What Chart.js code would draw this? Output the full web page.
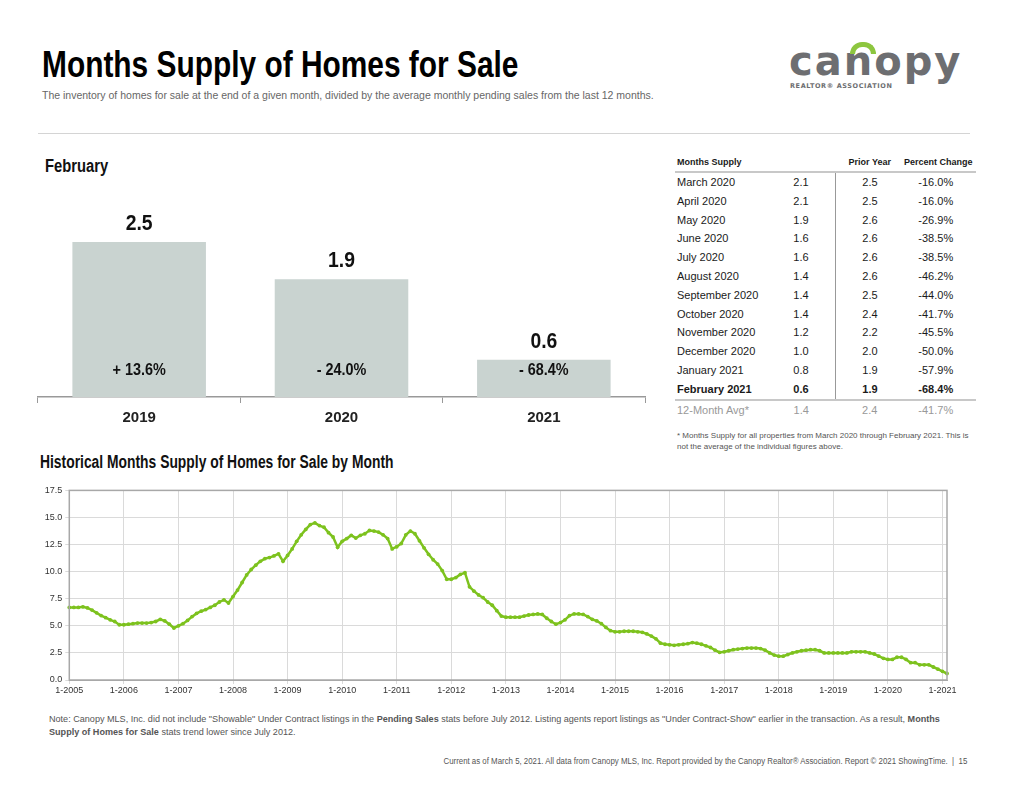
<!DOCTYPE html>
<html>
<head>
<meta charset="utf-8">
<script src="https://cdn.jsdelivr.net/npm/chart.js@4"></script>
<style>
  body { margin: 0; width: 1024px; height: 791px; background: #fff; position: relative; overflow: hidden;
         font-family: "Liberation Sans", Arial, sans-serif; color: #222; }
  .abs { position: absolute; white-space: nowrap; }
  .narrow { font-weight: bold; transform-origin: 0 0; }
  #title { left: 42px; top: 47px; font-size: 36px; line-height: 36px; color: #000; transform: scaleX(0.83); }
  #subtitle { left: 42px; top: 89px; font-size: 10.5px; line-height: 12px; color: #666; }
  #rule { left: 38px; top: 133px; width: 932px; height: 1px; background: #d4d4d4; }
  #logo { left: 789px; top: 41px; font-family: "DejaVu Sans", sans-serif; font-weight: bold; font-size: 40px; line-height: 40px; color: #6d6e71; letter-spacing: 2px; }
  #logoArc { left: 850px; top: 42px; width: 16px; height: 7px; border: 5px solid #8dc63f; border-bottom: none; border-radius: 13px 13px 0 0; }
  #logoSub { left: 790px; top: 82px; font-family: "DejaVu Sans", sans-serif; font-weight: bold; font-size: 6.5px; color: #6d6e71; letter-spacing: 0.6px; }
  #febLabel { left: 45px; top: 155px; font-size: 18px; line-height: 22px; color: #111; transform: scaleX(0.82); }
  #histLabel { left: 40px; top: 451px; font-size: 18px; line-height: 22px; color: #111; transform: scaleX(0.77); }
  #barWrap { left: 30px; top: 211px; width: 625px; height: 216px; }
  #lineWrap { left: 30px; top: 482px; width: 930px; height: 218px; }
  #supplyTable { left: 675px; top: 153px; border-collapse: collapse; font-size: 11px; color: #1a1a1a; }
  #supplyTable td, #supplyTable th { padding: 0; height: 18.8px; line-height: 18.8px; }
  #supplyTable th { font-size: 9px; font-weight: bold; height: 18px; line-height: 18px; border-bottom: 2px solid #c8c8c8; }
  #supplyTable .c1 { width: 90px; text-align: left; padding-left: 2px; }
  #supplyTable .c2 { width: 68px; text-align: center; border-right: 1px solid #999; }
  #supplyTable .c3 { width: 68px; text-align: center; }
  #supplyTable td.c4 { width: 56px; text-align: center; padding-right: 8px; }
  #supplyTable th.c4 { width: 64px; text-align: right; padding-right: 3px; }
  #supplyTable tr.bold td { font-weight: bold; border-bottom: 2px solid #c8c8c8; }
  #supplyTable tr.avg td { color: #999; border-right: none; }
  #tableNote { left: 677px; top: 430px; font-size: 8px; line-height: 11px; color: #555; }
  #note { left: 49px; top: 712px; font-size: 9.5px; line-height: 13px; color: #555; transform: scaleX(0.955); transform-origin: 0 0; }
  #footer { right: 57px; top: 756px; font-size: 8.5px; color: #555; transform: scaleX(0.925); transform-origin: 100% 0; }
</style>
</head>
<body>
<div id="title" class="abs narrow">Months Supply of Homes for Sale</div>
<div id="subtitle" class="abs">The inventory of homes for sale at the end of a given month, divided by the average monthly pending sales from the last 12 months.</div>
<div id="logo" class="abs">canopy</div>
<div id="logoArc" class="abs"></div>
<div id="logoSub" class="abs">REALTOR® ASSOCIATION</div>
<div id="rule" class="abs"></div>

<div id="febLabel" class="abs narrow">February</div>
<div id="barWrap" class="abs"><canvas id="febChart" width="625" height="216"></canvas></div>

<table id="supplyTable" class="abs"></table>
<div id="tableNote" class="abs">* Months Supply for all properties from March 2020 through February 2021. This is<br>not the average of the individual figures above.</div>

<div id="histLabel" class="abs narrow">Historical Months Supply of Homes for Sale by Month</div>
<div id="lineWrap" class="abs"><canvas id="histChart" width="930" height="218"></canvas></div>

<div id="note" class="abs">Note: Canopy MLS, Inc. did not include "Showable" Under Contract listings in the <b>Pending Sales</b> stats before July 2012. Listing agents report listings as "Under Contract-Show" earlier in the transaction. As a result, <b>Months</b><br><b>Supply of Homes for Sale</b> stats trend lower since July 2012.</div>
<div id="footer" class="abs">Current as of March 5, 2021. All data from Canopy MLS, Inc. Report provided by the Canopy Realtor® Association. Report © 2021 ShowingTime. &nbsp;|&nbsp; 15</div>

<script>
// February comparison
var barYears = ['2019', '2020', '2021'];
var barValues = [2.5, 1.9, 0.6];
var barChanges = ['+ 13.6%', '- 24.0%', '- 68.4%'];

// table on the right
var tableMonths = ['March 2020', 'April 2020', 'May 2020', 'June 2020', 'July 2020', 'August 2020',
  'September 2020', 'October 2020', 'November 2020', 'December 2020', 'January 2021', 'February 2021'];
var tableSupply = ['2.1', '2.1', '1.9', '1.6', '1.6', '1.4', '1.4', '1.4', '1.2', '1.0', '0.8', '0.6'];
var tablePrior = ['2.5', '2.5', '2.6', '2.6', '2.6', '2.6', '2.5', '2.4', '2.2', '2.0', '1.9', '1.9'];
var tableChange = ['-16.0%', '-16.0%', '-26.9%', '-38.5%', '-38.5%', '-46.2%', '-44.0%', '-41.7%', '-45.5%', '-50.0%', '-57.9%', '-68.4%'];
var avgRow = ['12-Month Avg*', '1.4', '2.4', '-41.7%'];

// historical monthly supply, Jan..Dec
var supply2005 = [6.7, 6.7, 6.7, 6.75, 6.65, 6.45, 6.2, 5.95, 5.75, 5.55, 5.4, 5.1];
var supply2006 = [5.1, 5.15, 5.2, 5.25, 5.25, 5.25, 5.3, 5.4, 5.6, 5.45, 5.15, 4.8];
var supply2007 = [5.0, 5.2, 5.5, 5.85, 6.15, 6.35, 6.5, 6.7, 6.9, 7.2, 7.4, 7.1];
var supply2008 = [7.7, 8.3, 9.0, 9.7, 10.2, 10.6, 10.95, 11.2, 11.3, 11.45, 11.65, 10.95];
var supply2009 = [11.5, 12.1, 12.8, 13.4, 13.9, 14.35, 14.5, 14.25, 14.1, 13.6, 13.2, 12.25];
var supply2010 = [12.8, 13.05, 13.35, 13.1, 13.35, 13.5, 13.8, 13.75, 13.65, 13.4, 13.05, 12.1];
var supply2011 = [12.3, 12.6, 13.4, 13.75, 13.5, 12.85, 12.2, 11.6, 11.1, 10.7, 10.1, 9.3];
var supply2012 = [9.3, 9.45, 9.75, 9.9, 8.6, 8.2, 7.85, 7.6, 7.2, 6.9, 6.4, 5.9];
var supply2013 = [5.8, 5.8, 5.8, 5.8, 5.9, 6.0, 6.05, 6.1, 6.05, 5.7, 5.4, 5.15];
var supply2014 = [5.3, 5.55, 5.95, 6.1, 6.1, 6.05, 5.85, 5.6, 5.45, 5.2, 4.85, 4.55];
var supply2015 = [4.45, 4.45, 4.5, 4.5, 4.5, 4.45, 4.4, 4.25, 4.05, 3.8, 3.4, 3.3];
var supply2016 = [3.25, 3.2, 3.25, 3.3, 3.35, 3.45, 3.4, 3.3, 3.15, 3.0, 2.75, 2.55];
var supply2017 = [2.6, 2.7, 2.8, 2.85, 2.9, 2.95, 2.95, 2.95, 2.9, 2.75, 2.5, 2.3];
var supply2018 = [2.2, 2.2, 2.35, 2.5, 2.6, 2.7, 2.75, 2.8, 2.8, 2.7, 2.5, 2.5];
var supply2019 = [2.5, 2.5, 2.5, 2.5, 2.6, 2.6, 2.6, 2.6, 2.5, 2.4, 2.2, 2.0];
var supply2020 = [1.9, 1.9, 2.1, 2.1, 1.9, 1.6, 1.6, 1.4, 1.4, 1.4, 1.2, 1.0];
var supply2021 = [0.8, 0.6];
var firstYear = 2005;
var yTicks = [0, 2.5, 5, 7.5, 10, 12.5, 15, 17.5];

var font = 'Liberation Sans';

// ---- table
var tbl = document.getElementById('supplyTable');
var html = '<tr><th class="c1">Months Supply</th><th class="c2" style="border-right:none"></th><th class="c3">Prior Year</th><th class="c4">Percent Change</th></tr>';
for (var i = 0; i < tableMonths.length; i++) {
  var last = i == tableMonths.length - 1;
  html += '<tr' + (last ? ' class="bold"' : '') + '><td class="c1">' + tableMonths[i] + '</td><td class="c2">' + tableSupply[i] +
    '</td><td class="c3">' + tablePrior[i] + '</td><td class="c4">' + tableChange[i] + '</td></tr>';
}
html += '<tr class="avg"><td class="c1">' + avgRow[0] + '</td><td class="c2" style="border-right:none">' + avgRow[1] +
  '</td><td class="c3">' + avgRow[2] + '</td><td class="c4">' + avgRow[3] + '</td></tr>';
tbl.innerHTML = html;

// condensed text: squeeze horizontally
function narrowText(c, txt, x, y, size, sx) {
  c.save();
  c.translate(x, y);
  c.scale(sx, 1);
  c.font = 'bold ' + size + 'px "' + font + '"';
  c.fillText(txt, 0, 0);
  c.restore();
}

// ---- February bars
var barLabels = {
  id: 'barLabels',
  afterDatasetsDraw: function (chart) {
    var c = chart.ctx;
    var meta = chart.getDatasetMeta(0);
    c.save();
    c.textAlign = 'center';
    c.textBaseline = 'middle';
    c.fillStyle = '#111';
    meta.data.forEach(function (bar, i) {
      narrowText(c, barValues[i], bar.x, bar.y - 18, 22, 0.88);
      narrowText(c, barChanges[i], bar.x, bar.base - 26, 16, 0.9);
    });
    c.restore();
  }
};

new Chart(document.getElementById('febChart').getContext('2d'), {
  type: 'bar',
  data: {
    labels: barYears,
    datasets: [{
      data: barValues,
      backgroundColor: '#c9d3d0',
      barPercentage: 0.66,
      categoryPercentage: 1
    }]
  },
  options: {
    responsive: false,
    animation: false,
    layout: { padding: { top: 0, left: 8, right: 10, bottom: 0 } },
    plugins: { legend: { display: false }, tooltip: { enabled: false } },
    scales: {
      x: {
        grid: { offset: true, drawOnChartArea: false, tickLength: 6, color: '#999' },
        border: { color: '#999', width: 1.5 },
        ticks: { font: { family: font, weight: 'bold', size: 15 }, color: '#222', padding: 6 },
        afterFit: function (s) { s.height = 30; }
      },
      y: { display: false, min: 0, max: 3 }
    }
  },
  plugins: [barLabels]
});

// ---- historical line
var monthlySupply = [].concat(supply2005, supply2006, supply2007, supply2008, supply2009, supply2010, supply2011,
  supply2012, supply2013, supply2014, supply2015, supply2016, supply2017, supply2018, supply2019, supply2020, supply2021);
var monthLabels = monthlySupply.map(function (v, i) {
  return (i % 12 + 1) + '-' + (firstYear + Math.floor(i / 12));
});

var frame = {
  id: 'frame',
  afterDraw: function (chart) {
    var a = chart.chartArea, c = chart.ctx;
    c.save();
    c.strokeStyle = '#a8a8a8';
    c.lineWidth = 1.5;
    c.strokeRect(a.left, a.top, a.right - a.left, a.bottom - a.top);
    c.restore();
  }
};

new Chart(document.getElementById('histChart').getContext('2d'), {
  type: 'line',
  data: {
    labels: monthLabels,
    datasets: [{
      data: monthlySupply,
      borderColor: '#7dc21e',
      backgroundColor: '#7dc21e',
      borderWidth: 2.5,
      pointRadius: 1.9,
      pointBorderWidth: 0,
      tension: 0
    }]
  },
  options: {
    responsive: false,
    animation: false,
    layout: { padding: { top: 5, right: 13, left: 0, bottom: 0 } },
    plugins: { legend: { display: false }, tooltip: { enabled: false } },
    scales: {
      x: {
        offset: false,
        grid: { color: '#dadada', tickLength: 4, offset: false },
        border: { color: '#a8a8a8' },
        ticks: {
          autoSkip: false, maxRotation: 0, padding: 1,
          font: { family: font, size: 9 }, color: '#333',
          callback: function (v, i) { return monthLabels[i].indexOf('1-') === 0 ? monthLabels[i] : null; }
        },
        afterFit: function (s) { s.height = 20; }
      },
      y: {
        min: yTicks[0], max: yTicks[yTicks.length - 1],
        grid: { color: '#dadada', tickLength: 4 },
        border: { color: '#a8a8a8' },
        ticks: { stepSize: 2.5, padding: 3, font: { family: font, size: 9 }, color: '#333',
          callback: function (v) { return v.toFixed(1); } },
        afterFit: function (s) { s.width = 39.3; }
      }
    }
  },
  plugins: [frame]
});
</script>
</body>
</html>
